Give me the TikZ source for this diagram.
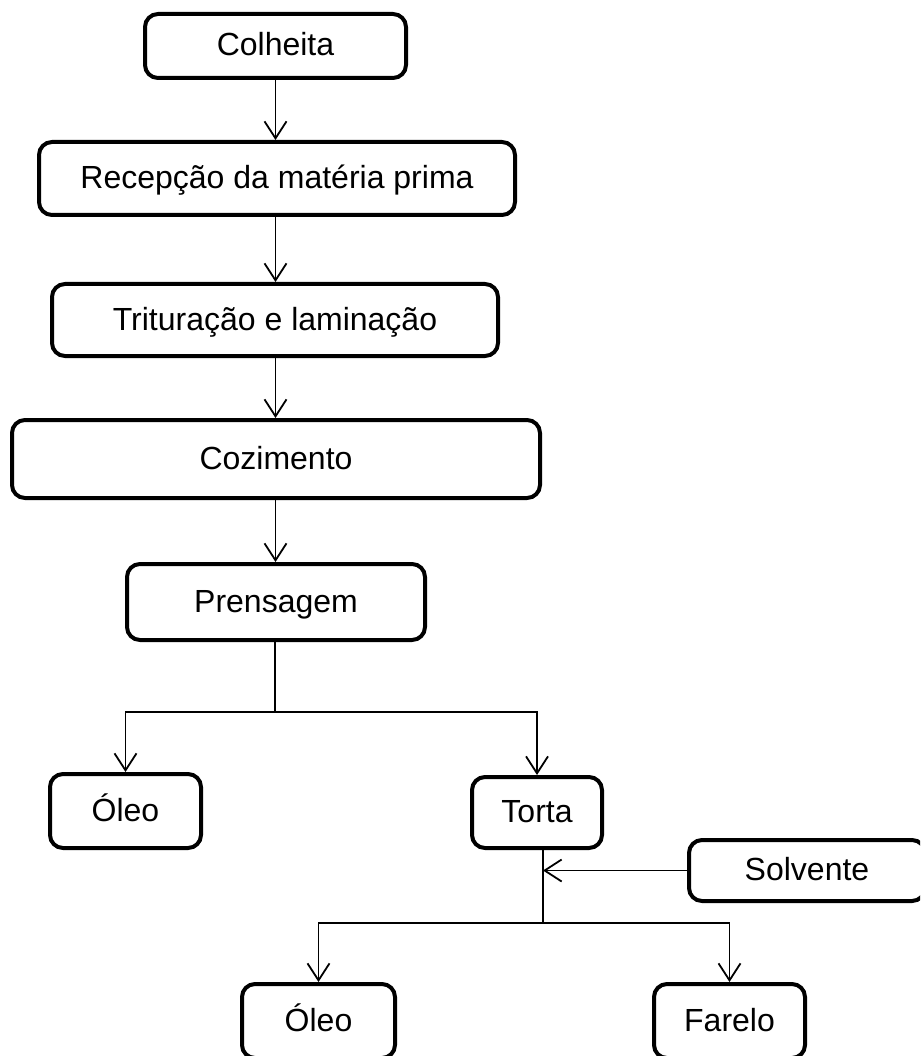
\documentclass[tikz,border=0pt]{standalone}
\usepackage{fontspec}
\setmainfont{Liberation Sans}
\usetikzlibrary{arrows.meta}
\begin{document}
\begin{tikzpicture}[x=1pt,y=-1pt,
  box/.style={draw=black, line width=4pt, rounded corners=13pt, inner sep=0pt,
    font=\fontsize{32}{38}\selectfont, text height=23pt, text depth=3pt, align=center},
  conn/.style={draw=black, line width=1.8pt},
  arr/.style={conn, -{Straight Barb[length=17pt,width=22pt]}}]
\useasboundingbox (0,0) rectangle (920,1056);
\clip (0,0) rectangle (920,1056);
\fill[white] (0,0) rectangle (920,1056);
\node[box, minimum width=261pt, minimum height=64pt] (colheita) at (275.5,46) {Colheita};
\node[box, minimum width=476pt, minimum height=73pt] (recep) at (277,178.5) {Recepção da matéria prima};
\node[box, minimum width=446pt, minimum height=72pt] (trit) at (275,320) {Trituração e laminação};
\node[box, minimum width=528pt, minimum height=78pt] (coz) at (276,459) {Cozimento};
\node[box, minimum width=298pt, minimum height=76pt] (pren) at (276,602) {Prensagem};
\node[box, minimum width=151pt, minimum height=74pt] (oleoA) at (125.5,811) {Óleo};
\node[box, minimum width=130pt, minimum height=71pt] (torta) at (537,812.5) {Torta};
\node[box, minimum width=236pt, minimum height=61pt] (solv) at (807,870.5) {Solvente};
\node[box, minimum width=153pt, minimum height=74pt] (oleoB) at (318.5,1021) {Óleo};
\node[box, minimum width=151pt, minimum height=74pt] (farelo) at (729.5,1021) {Farelo};
\draw[arr] (colheita.south) -- (colheita.south |- recep.north);
\draw[arr] (colheita.south |- recep.south) -- (colheita.south |- trit.north);
\draw[arr] (colheita.south |- trit.south) -- (colheita.south |- coz.north);
\draw[arr] (colheita.south |- coz.south) -- (colheita.south |- pren.north);
\coordinate (j1) at (275,712);
\draw[conn] (j1 |- pren.south) -- (j1);
\draw[arr] (j1) -| (oleoA.north);
\draw[arr] (j1) -| (torta.north);
\coordinate (j2) at (543,923);
\draw[conn] (j2 |- torta.south) -- (j2);
\draw[arr] (solv.west) -- (solv.west -| j2);
\draw[arr] (j2) -| (oleoB.north);
\draw[arr] (j2) -| (farelo.north);
\end{tikzpicture}
\end{document}
